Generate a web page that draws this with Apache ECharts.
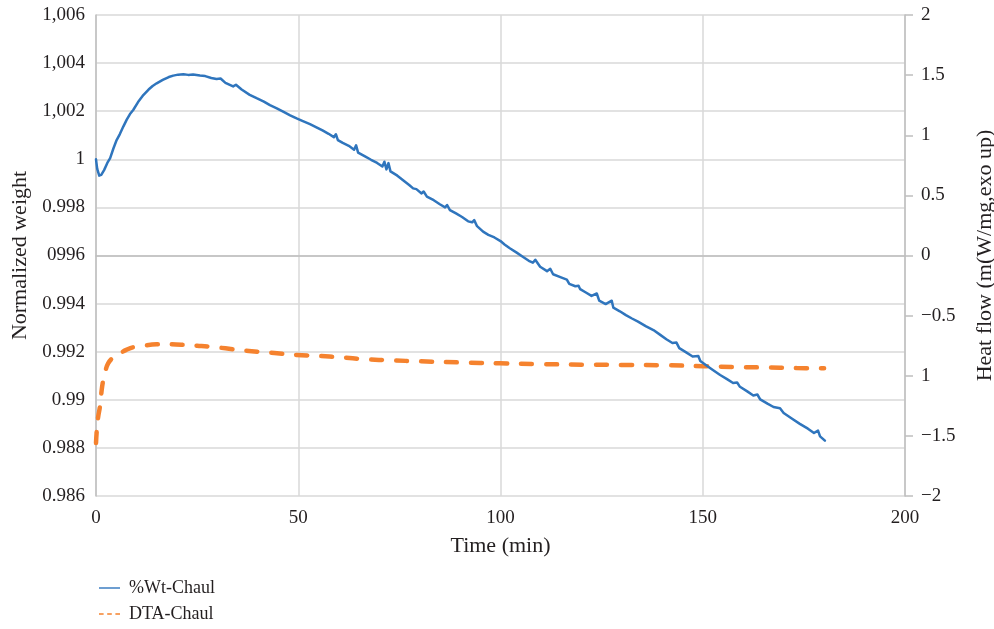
<!DOCTYPE html>
<html>
<head>
<meta charset="utf-8">
<script src="https://cdn.jsdelivr.net/npm/echarts@6/dist/echarts.min.js"></script>
<style>
  html, body { margin: 0; padding: 0; background: #fff; }
  #chart { width: 994px; height: 629px; }
</style>
</head>
<body>
<div id="chart"></div>
<script>
// Thermogravimetric weight trace (left axis) and DTA heat flow (right axis)
const wtTime = [
  0, 0.3, 0.8, 1.3, 2.0, 2.8, 3.5, 4.3, 5.1, 5.9, 6.75, 7.6, 8.4, 9.2, 10.4, 11.7,
  13.0, 14.0, 15.0, 16.5, 18.0, 19.1, 20.3, 21.6, 22.8, 24.0, 25.7, 27.0, 28.5, 29.8,
  30.8, 32.0, 33.9, 34.6, 36.0, 38.0, 39.7, 41.5, 43.0, 44.7, 46.5, 48.0, 49.6, 51.0,
  52.9, 54.5, 56.0, 57.5, 58.8, 59.3, 59.8, 61.0, 62.5, 63.8, 64.3, 64.8, 66.5, 68.0,
  69.5, 70.8, 71.3, 71.8, 72.3, 72.8, 74.5, 76.0, 77.5, 78.4, 79.2, 80.5, 81.0, 81.8,
  83.5, 85.0, 86.3, 86.8, 87.5, 89.0, 90.5, 92.0, 93.0, 93.5, 94.2, 95.7, 97.0, 98.5,
  100.0, 101.0, 102.3, 104.0, 105.5, 107.0, 108.0, 108.6, 109.8, 111.5, 112.3, 113.0,
  114.8, 116.4, 117.0, 118.5, 119.3, 119.7, 121.0, 122.5, 123.8, 124.4, 126.0, 127.5,
  127.9, 129.5, 131.0, 132.5, 134.0, 136.0, 137.8, 139.5, 141.0, 142.5, 143.5, 144.2,
  146.0, 147.5, 148.9, 149.4, 151.0, 152.5, 154.3, 156.0, 157.5, 158.5, 159.2, 161.0,
  162.5, 163.5, 164.2, 166.0, 167.5, 169.1, 170.0, 172.0, 174.0, 176.0, 177.5, 178.5,
  179.0, 180.2
];
const wtValues = [
  1.0000, 0.9996, 0.99932, 0.99935, 0.99955, 0.99985, 1.00005, 1.00045, 1.00080, 1.00105,
  1.00136, 1.00165, 1.00188, 1.00205, 1.00238, 1.00267, 1.00290, 1.00305, 1.00316, 1.00330,
  1.00342, 1.00348, 1.00352, 1.00354, 1.00351, 1.00353, 1.00348, 1.00346, 1.00338, 1.00334,
  1.00336, 1.00318, 1.00303, 1.00310, 1.00290, 1.00268, 1.00254, 1.00240, 1.00225, 1.00212,
  1.00196, 1.00183, 1.00170, 1.00160, 1.00146, 1.00133, 1.00120, 1.00106, 1.00092, 1.00104,
  1.00080, 1.00068, 1.00056, 1.00040, 1.00058, 1.00028, 1.00012, 0.99998, 0.99985, 0.99970,
  0.99990, 0.99958, 0.99984, 0.99950, 0.99932, 0.99912, 0.99892, 0.99879, 0.99876, 0.99858,
  0.99866, 0.99845, 0.99830, 0.99813, 0.99800, 0.99810, 0.99789, 0.99775, 0.99760, 0.99742,
  0.99738, 0.99747, 0.99722, 0.99699, 0.99686, 0.99675, 0.99660, 0.99646, 0.99630, 0.99612,
  0.99595, 0.99578, 0.99570, 0.99582, 0.99553, 0.99535, 0.99545, 0.99522, 0.99510, 0.99500,
  0.99482, 0.99472, 0.99474, 0.99460, 0.99447, 0.99432, 0.99442, 0.99412, 0.99398, 0.99412,
  0.99383, 0.99368, 0.99352, 0.99338, 0.99325, 0.99305, 0.99290, 0.99270, 0.99252, 0.99236,
  0.99238, 0.99215, 0.99196, 0.99180, 0.99182, 0.99161, 0.99142, 0.99124, 0.99103, 0.99086,
  0.99070, 0.99072, 0.99054, 0.99035, 0.99018, 0.99022, 0.99002, 0.98984, 0.98970, 0.98965,
  0.98945, 0.98922, 0.98900, 0.98880, 0.98862, 0.98872, 0.98848, 0.98830
];

const dtaTime = [
  0, 0.2, 0.5, 1.0, 1.4, 1.8, 2.4, 3.0, 4.0, 5.0, 5.9, 7.5, 9.2, 12.0, 15.0, 18.0,
  22.4, 25.0, 28.2, 32.0, 35.6, 40.0, 42.2, 46.0, 49.6, 55.4, 60.0, 66.9, 73.0, 80.1,
  90.0, 99.9, 110.0, 120.5, 130.0, 141.1, 150.0, 157.6, 165.0, 173.2, 180.0
];
const dtaValues = [
  -1.56, -1.45, -1.35, -1.25, -1.12, -1.035, -0.95, -0.897, -0.855, -0.83, -0.813, -0.785,
  -0.763, -0.748, -0.739, -0.738, -0.744, -0.750, -0.758, -0.772, -0.786, -0.800, -0.805,
  -0.817, -0.827, -0.836, -0.846, -0.863, -0.872, -0.880, -0.889, -0.897, -0.903, -0.908,
  -0.910, -0.913, -0.920, -0.927, -0.931, -0.936, -0.938
];

// Tick labels as printed on each axis
const leftTickLabels = ['0.986', '0.988', '0.99', '0.992', '0.994', '0996', '0.998', '1', '1,002', '1,004', '1,006'];
const rightTickLabels = ['\u22122', '\u22121.5', '1', '\u22120.5', '0', '0.5', '1', '1.5', '2'];
const xTickLabels = ['0', '50', '100', '150', '200'];

const FONT = '"Liberation Serif", "DejaVu Serif", serif';
const TEXT = '#231f20';
const GRID = '#d9d9d9';
const AXIS = '#bfbfbf';

function labelFrom(list, min, step) {
  return function (v) {
    const i = Math.round((v - min) / step);
    return list[i] !== undefined ? list[i] : '';
  };
}

const chart = echarts.init(document.getElementById('chart'), null, { renderer: 'canvas' });

chart.setOption({
  backgroundColor: '#ffffff',
  animation: false,
  textStyle: { fontFamily: FONT, color: TEXT },
  grid: { left: 96, right: 89, top: 15, bottom: 133, containLabel: false, outerBoundsMode: 'none' },
  legend: {
    orient: 'vertical',
    left: 94,
    top: 574,
    itemWidth: 21,
    itemHeight: 10,
    itemGap: 8,
    textStyle: { fontFamily: FONT, fontSize: 18, color: TEXT, padding: [0, 0, 0, 4] },
    data: [
      { name: '%Wt-Chaul', icon: 'path://M0,0H21V1.4H0Z', itemStyle: { color: '#2F75BD' } },
      { name: 'DTA-Chaul', icon: 'path://M0,0H4.5V1.4H0ZM8,0H12.5V1.4H8ZM16,0H20.5V1.4H16Z', itemStyle: { color: '#F5822E' } }
    ]
  },
  xAxis: {
    type: 'value',
    min: 0, max: 200, interval: 50,
    name: 'Time (min)',
    nameLocation: 'middle',
    nameGap: 39,
    nameTextStyle: { fontFamily: FONT, fontSize: 22, color: TEXT },
    axisLine: { show: true, lineStyle: { color: AXIS, width: 1.5 } },
    axisTick: { show: false },
    axisLabel: { margin: 13, fontFamily: FONT, fontSize: 19, color: TEXT, formatter: labelFrom(xTickLabels, 0, 50) },
    splitLine: { show: true, lineStyle: { color: GRID, width: 1.5 } }
  },
  yAxis: [
    {
      type: 'value',
      position: 'left',
      min: 0.986, max: 1.006, interval: 0.002,
      name: 'Normalized weight',
      nameLocation: 'middle',
      nameRotate: 90,
      nameGap: 64,
      nameTextStyle: { fontFamily: FONT, fontSize: 22, color: TEXT },
      axisLine: { show: true, lineStyle: { color: AXIS, width: 1.5 } },
      axisTick: { show: false },
      axisLabel: { margin: 11, fontFamily: FONT, fontSize: 19, color: TEXT, formatter: labelFrom(leftTickLabels, 0.986, 0.002) },
      splitLine: { show: true, lineStyle: { color: GRID, width: 1.5 } }
    },
    {
      type: 'value',
      position: 'right',
      min: -2, max: 2, interval: 0.5,
      name: 'Heat flow (m(W/mg,exo up)',
      nameLocation: 'middle',
      nameRotate: 90,
      nameGap: 69,
      nameTextStyle: { fontFamily: FONT, fontSize: 22, color: TEXT },
      axisLine: { show: true, lineStyle: { color: AXIS, width: 1.5 } },
      axisTick: { show: true, inside: false, length: 8, lineStyle: { color: AXIS, width: 1.5 } },
      axisLabel: { margin: 16, fontFamily: FONT, fontSize: 19, color: TEXT, formatter: labelFrom(rightTickLabels, -2, 0.5) },
      splitLine: { show: false }
    }
  ],
  series: [
    {
      name: '%Wt-Chaul',
      type: 'line',
      yAxisIndex: 0,
      showSymbol: false,
      symbol: 'none',
      smooth: false,
      color: '#2F75BD',
      lineStyle: { color: '#2F75BD', width: 2.5, join: 'round', cap: 'round' },
      data: wtTime.map((t, i) => [t, wtValues[i]]),
      z: 3
    },
    {
      name: 'DTA-Chaul',
      type: 'line',
      yAxisIndex: 1,
      showSymbol: false,
      symbol: 'none',
      smooth: 0.4,
      color: '#F5822E',
      lineStyle: { color: '#F5822E', width: 4.5, type: [11, 14], cap: 'round' },
      data: dtaTime.map((t, i) => [t, dtaValues[i]]),
      z: 2
    }
  ]
});
</script>
</body>
</html>
